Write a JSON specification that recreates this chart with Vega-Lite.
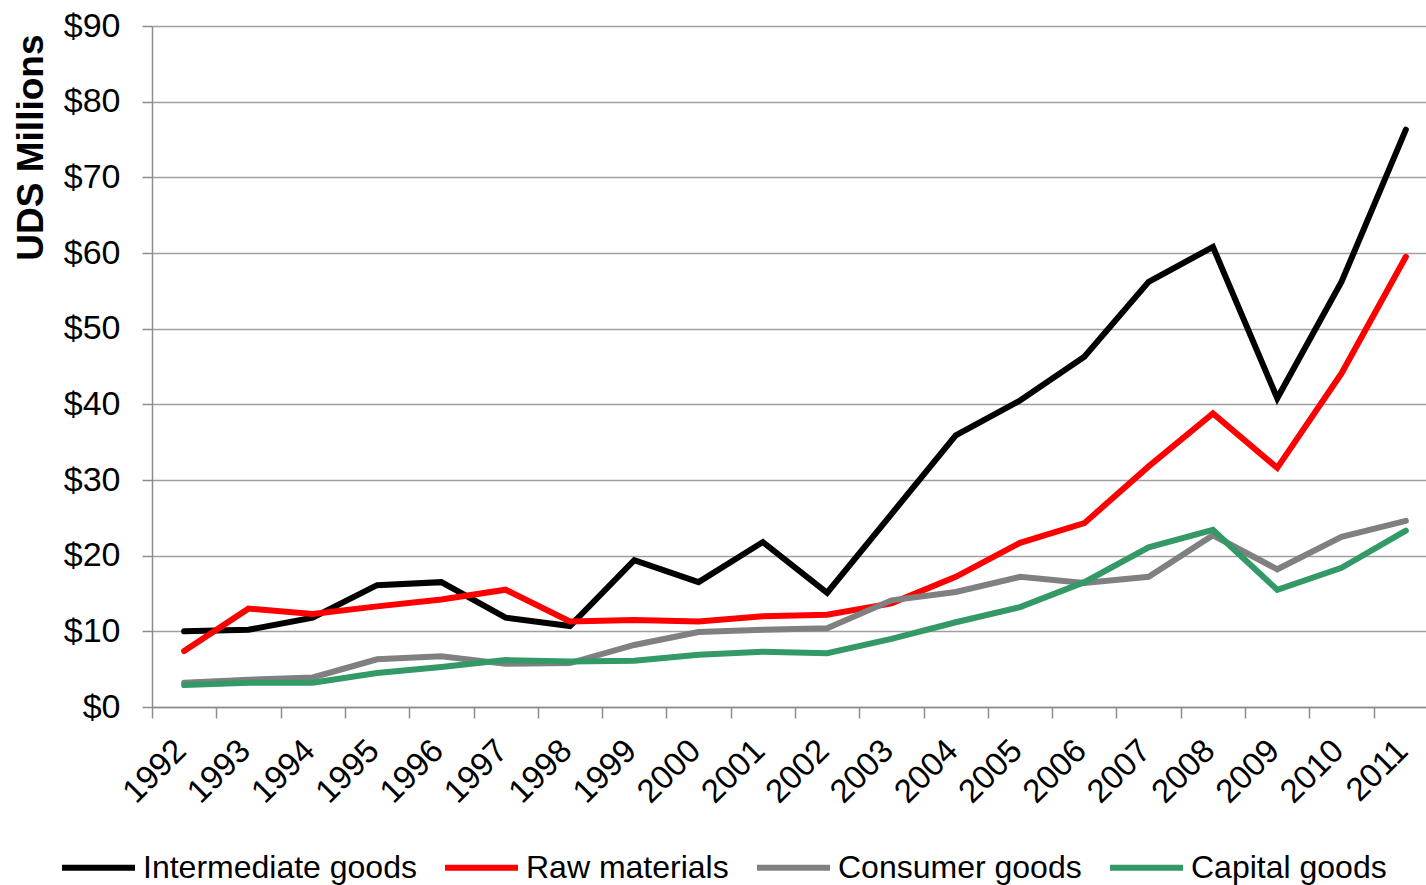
{
  "$schema": "https://vega.github.io/schema/vega-lite/v6.json",
  "autosize": {"type": "none"},
  "padding": {"left": 152, "top": 26, "right": 0, "bottom": 178},
  "width": 1274,
  "height": 681,
  "background": "white",
  "config": {
    "font": "Liberation Sans",
    "view": {"stroke": null}
  },
  "data": {
    "values": [
      {"year": "1992", "Intermediate goods": 10.0, "Raw materials": 7.4, "Consumer goods": 3.2, "Capital goods": 2.9},
      {"year": "1993", "Intermediate goods": 10.2, "Raw materials": 13.0, "Consumer goods": 3.6, "Capital goods": 3.2},
      {"year": "1994", "Intermediate goods": 11.8, "Raw materials": 12.3, "Consumer goods": 3.9, "Capital goods": 3.2},
      {"year": "1995", "Intermediate goods": 16.1, "Raw materials": 13.3, "Consumer goods": 6.3, "Capital goods": 4.5},
      {"year": "1996", "Intermediate goods": 16.5, "Raw materials": 14.2, "Consumer goods": 6.7, "Capital goods": 5.3},
      {"year": "1997", "Intermediate goods": 11.8, "Raw materials": 15.5, "Consumer goods": 5.7, "Capital goods": 6.2},
      {"year": "1998", "Intermediate goods": 10.7, "Raw materials": 11.3, "Consumer goods": 5.8, "Capital goods": 6.0},
      {"year": "1999", "Intermediate goods": 19.4, "Raw materials": 11.5, "Consumer goods": 8.2, "Capital goods": 6.1},
      {"year": "2000", "Intermediate goods": 16.5, "Raw materials": 11.3, "Consumer goods": 9.9, "Capital goods": 6.9},
      {"year": "2001", "Intermediate goods": 21.8, "Raw materials": 12.0, "Consumer goods": 10.2, "Capital goods": 7.3},
      {"year": "2002", "Intermediate goods": 15.1, "Raw materials": 12.2, "Consumer goods": 10.4, "Capital goods": 7.1},
      {"year": "2003", "Intermediate goods": 25.5, "Raw materials": 13.7, "Consumer goods": 14.1, "Capital goods": 9.0},
      {"year": "2004", "Intermediate goods": 35.9, "Raw materials": 17.2, "Consumer goods": 15.2, "Capital goods": 11.2},
      {"year": "2005", "Intermediate goods": 40.5, "Raw materials": 21.7, "Consumer goods": 17.2, "Capital goods": 13.2},
      {"year": "2006", "Intermediate goods": 46.3, "Raw materials": 24.3, "Consumer goods": 16.4, "Capital goods": 16.5},
      {"year": "2007", "Intermediate goods": 56.2, "Raw materials": 31.8, "Consumer goods": 17.2, "Capital goods": 21.1},
      {"year": "2008", "Intermediate goods": 60.8, "Raw materials": 38.8, "Consumer goods": 22.7, "Capital goods": 23.4},
      {"year": "2009", "Intermediate goods": 40.8, "Raw materials": 31.6, "Consumer goods": 18.2, "Capital goods": 15.5},
      {"year": "2010", "Intermediate goods": 56.2, "Raw materials": 44.1, "Consumer goods": 22.5, "Capital goods": 18.4},
      {"year": "2011", "Intermediate goods": 76.3, "Raw materials": 59.5, "Consumer goods": 24.6, "Capital goods": 23.3}
    ]
  },
  "transform": [
    {"fold": ["Intermediate goods", "Raw materials", "Consumer goods", "Capital goods"], "as": ["series", "value"]}
  ],
  "mark": {"type": "line", "strokeWidth": 6, "strokeCap": "round", "strokeJoin": "miter"},
  "encoding": {
    "x": {
      "field": "year",
      "type": "ordinal",
      "scale": {"type": "band", "paddingInner": 0, "paddingOuter": 0, "range": [0, 1286]},
      "axis": {
        "title": null,
        "tickBand": "extent",
        "labelAngle": -45,
        "labelAlign": "right",
        "labelBaseline": "top",
        "labelFontSize": 33,
        "labelColor": "black",
        "labelPadding": 16,
        "labelOffset": -15,
        "tickSize": 11,
        "tickColor": "#8c8c8c",
        "tickWidth": 1.5,
        "domainColor": "#8c8c8c",
        "domainWidth": 1.5,
        "grid": false
      }
    },
    "y": {
      "field": "value",
      "type": "quantitative",
      "scale": {"domain": [0, 90], "nice": false},
      "axis": {
        "title": "UDS Millions",
        "titleFontSize": 37,
        "titleFontWeight": "bold",
        "titleColor": "black",
        "titleAngle": -90,
        "titleAnchor": "end",
        "titleAlign": "right",
        "titleBaseline": "middle",
        "titleX": -121,
        "titleY": 8,
        "values": [0, 10, 20, 30, 40, 50, 60, 70, 80, 90],
        "labelExpr": "'$' + datum.value",
        "labelFontSize": 34,
        "labelColor": "black",
        "labelPadding": 22,
        "tickSize": 10,
        "tickColor": "#8c8c8c",
        "tickWidth": 1.5,
        "domainColor": "#8c8c8c",
        "domainWidth": 1.5,
        "grid": true,
        "gridColor": "#a0a0a0",
        "gridWidth": 1.5
      }
    },
    "color": {
      "field": "series",
      "type": "nominal",
      "sort": ["Intermediate goods", "Raw materials", "Consumer goods", "Capital goods"],
      "scale": {
        "domain": ["Intermediate goods", "Raw materials", "Consumer goods", "Capital goods"],
        "range": ["#000000", "#ff0000", "#808080", "#339966"]
      },
      "legend": {
        "title": null,
        "orient": "none",
        "direction": "horizontal",
        "legendX": -93,
        "legendY": 802,
        "symbolType": "stroke",
        "symbolSize": 5329,
        "symbolStrokeWidth": 6,
        "labelFontSize": 32,
        "labelColor": "black",
        "labelOffset": 5,
        "columnPadding": 16,
        "labelLimit": 400
      }
    }
  }
}
